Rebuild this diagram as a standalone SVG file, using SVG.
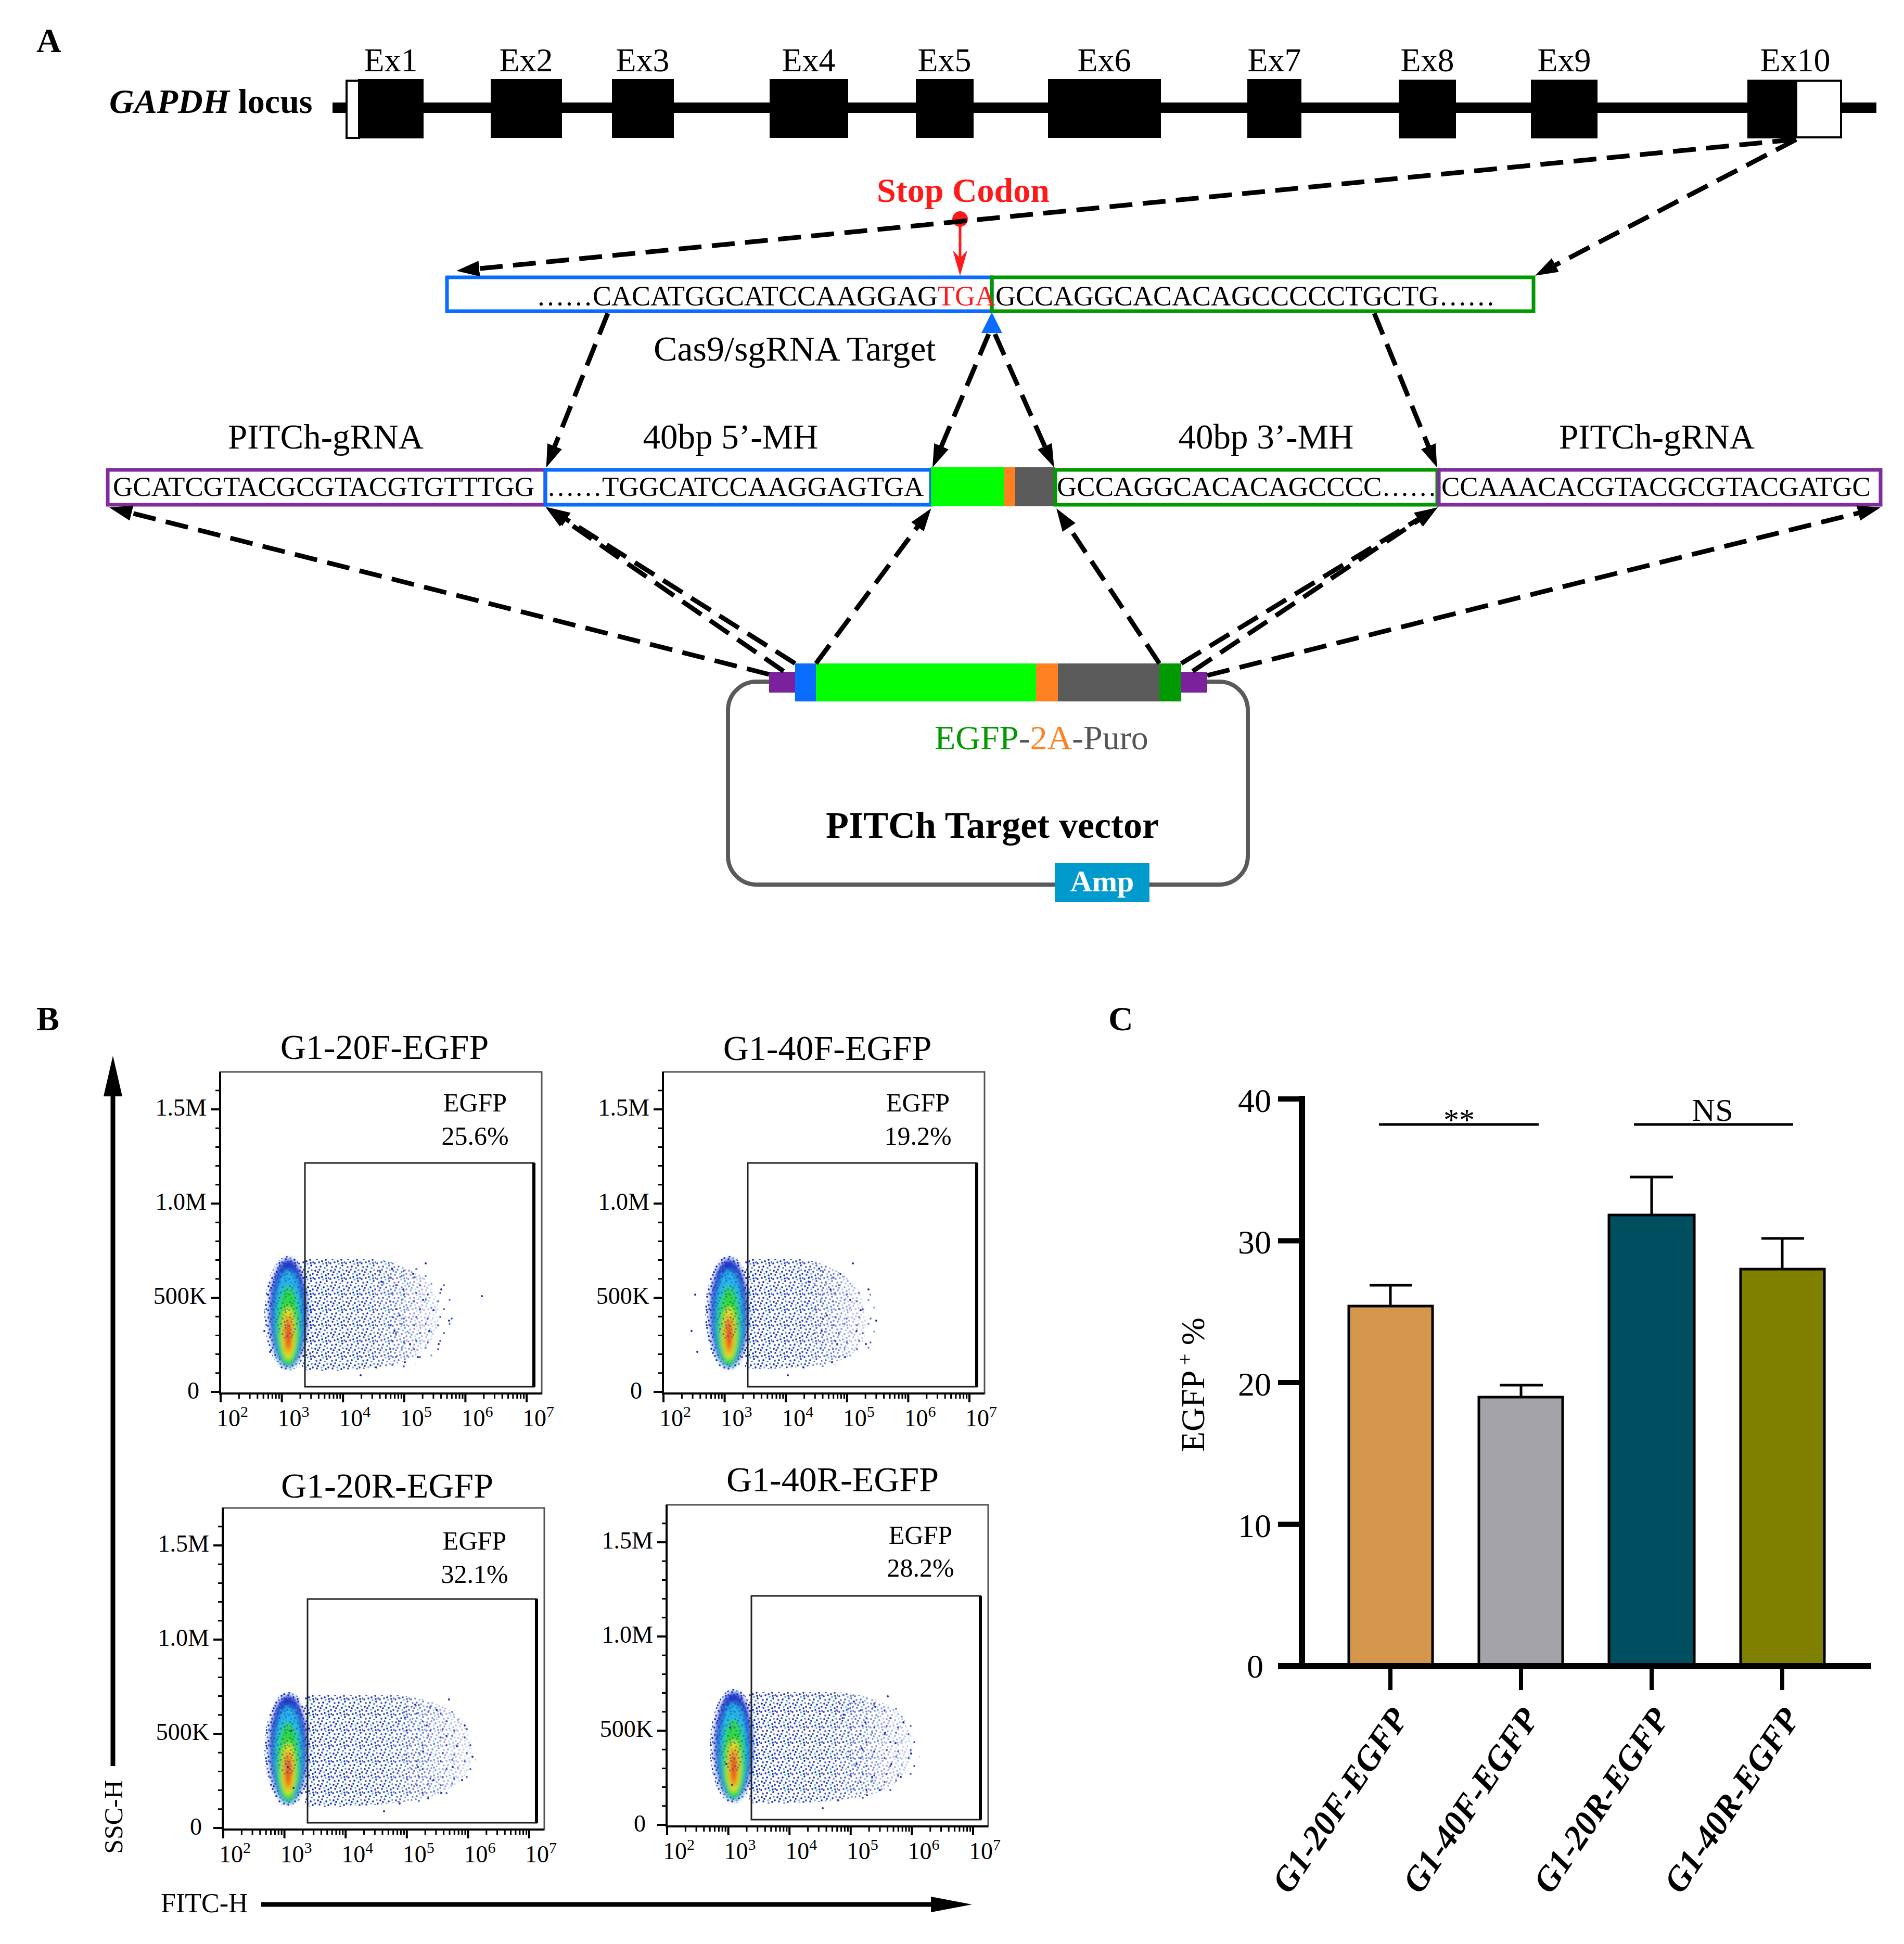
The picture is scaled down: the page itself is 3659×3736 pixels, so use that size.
<svg xmlns="http://www.w3.org/2000/svg" xmlns:xlink="http://www.w3.org/1999/xlink" width="3659" height="3736" viewBox="0 0 3659 3736">
<style>
.ser{font-family:"Liberation Serif","Times New Roman","DejaVu Serif",serif;}
.b{font-weight:bold;}
.dash{stroke:#000;stroke-width:9;stroke-dasharray:44 20;fill:none;marker-end:url(#ah);}
.tk{stroke:#000;fill:none;}
</style>
<defs>
<marker id="ah" markerUnits="userSpaceOnUse" markerWidth="50" markerHeight="40" viewBox="0 -20 50 40" refX="8" refY="0" orient="auto"><path d="M0,-15 L44,0 L0,15 Z" fill="#000"/></marker>
<pattern id="dotsD" width="30" height="30" patternUnits="userSpaceOnUse">
<circle cx="3" cy="4" r="1.9" fill="#1a24b8"/><circle cx="11" cy="2" r="1.9" fill="#2248d0"/><circle cx="19" cy="6" r="1.9" fill="#1620a8"/><circle cx="26" cy="3" r="1.9" fill="#3a9ae0"/><circle cx="6" cy="12" r="1.9" fill="#2038c8"/><circle cx="15" cy="10" r="1.9" fill="#40c0e8"/><circle cx="23" cy="13" r="1.9" fill="#1a26bc"/><circle cx="29" cy="18" r="1.9" fill="#2a58d8"/><circle cx="2" cy="20" r="1.9" fill="#1c30c4"/><circle cx="10" cy="18" r="1.9" fill="#2238c8"/><circle cx="18" cy="21" r="1.9" fill="#38b0e4"/><circle cx="25" cy="24" r="1.9" fill="#1a22b4"/><circle cx="5" cy="27" r="1.9" fill="#2a50d4"/><circle cx="13" cy="26" r="1.9" fill="#1620ac"/><circle cx="21" cy="29" r="1.9" fill="#3070dc"/><circle cx="28" cy="10" r="1.9" fill="#1a28bc"/><circle cx="8" cy="7" r="1.9" fill="#1822b0"/><circle cx="16" cy="16" r="1.9" fill="#1a24b8"/><circle cx="24" cy="19" r="1.9" fill="#2030c0"/>
</pattern>
<pattern id="dotsS" width="46" height="46" patternUnits="userSpaceOnUse">
<circle cx="5" cy="7" r="1.9" fill="#1a24b8"/><circle cx="27" cy="4" r="1.9" fill="#2a50d8"/><circle cx="16" cy="22" r="1.9" fill="#1620a8"/><circle cx="38" cy="19" r="1.9" fill="#3a8de0"/><circle cx="9" cy="37" r="1.9" fill="#2030c4"/><circle cx="31" cy="40" r="1.9" fill="#1a26b8"/>
</pattern>
<linearGradient id="fadeGrad" x1="0" y1="0" x2="1" y2="0"><stop offset="0" stop-color="#fff"/><stop offset="0.5" stop-color="#fff" stop-opacity="0.9"/><stop offset="1" stop-color="#fff" stop-opacity="0.2"/></linearGradient>
<mask id="fade" maskContentUnits="objectBoundingBox"><rect x="0" y="0" width="1" height="1" fill="url(#fadeGrad)"/></mask>
<filter id="soft" x="-60%" y="-20%" width="220%" height="140%"><feGaussianBlur stdDeviation="4"/></filter>
<g id="mainPop">
<g filter="url(#soft)">
<ellipse cx="0" cy="-154" rx="36" ry="104" fill="#2338c8"/>
<ellipse cx="0" cy="-145" rx="28" ry="92" fill="#27b5e6"/>
<ellipse cx="0" cy="-130" rx="22" ry="76" fill="#2fdc3a"/>
<ellipse cx="0" cy="-116" rx="13" ry="50" fill="#e8e81e"/>
<ellipse cx="0" cy="-114" rx="9" ry="40" fill="#f59a1c"/>
<ellipse cx="0" cy="-112" rx="5" ry="28" fill="#e8281e"/>
</g>
<ellipse cx="0" cy="-180" rx="34" ry="76" fill="url(#dotsD)" opacity="0.45"/>
</g>
<g id="outl" fill="#1a24b8">
<circle cx="330" cy="-240" r="2"/><circle cx="352" cy="-200" r="2"/><circle cx="371" cy="-230" r="2"/><circle cx="345" cy="-150" r="2"/><circle cx="390" cy="-180" r="2"/><circle cx="402" cy="-120" r="2"/><circle cx="365" cy="-95" r="2"/><circle cx="410" cy="-160" r="2"/><circle cx="425" cy="-200" r="2"/><circle cx="380" cy="-70" r="2"/><circle cx="440" cy="-140" r="2"/><circle cx="355" cy="-60" r="2"/><circle cx="300" cy="-50" r="2"/><circle cx="270" cy="-35" r="2"/><circle cx="395" cy="-250" r="2"/><circle cx="335" cy="-120" r="2"/><circle cx="420" cy="-95" r="2"/><circle cx="310" cy="-215" r="2"/><circle cx="92" cy="-190" r="2"/><circle cx="85" cy="-120" r="2"/><circle cx="96" cy="-80" r="2"/>
</g>
<g id="flowFrame">
<rect x="0" y="-618" width="618" height="618" fill="none" stroke="#555" stroke-width="3"/>
<path class="tk" d="M0,-618 V0 H618" stroke-width="4"/>
<path class="tk" d="M-18,-3H0 M-18,-184H0 M-18,-365H0 M-18,-546H0" stroke-width="4"/>
<path class="tk" d="M-9,-39.2H0 M-9,-75.4H0 M-9,-111.6H0 M-9,-147.8H0 M-9,-220.2H0 M-9,-256.4H0 M-9,-292.6H0 M-9,-328.8H0 M-9,-401.2H0 M-9,-437.4H0 M-9,-473.6H0 M-9,-509.8H0 M-9,-582.2H0" stroke-width="3"/>
<path class="tk" d="M1,0V17 M118.6,0V17 M236.2,0V17 M353.8,0V17 M471.4,0V17 M589,0V17" stroke-width="4"/>
<path class="tk" d="M36.4,0V10 M57.1,0V10 M71.8,0V10 M83.2,0V10 M92.5,0V10 M100.4,0V10 M107.2,0V10 M113.2,0V10 M154,0V10 M174.7,0V10 M189.4,0V10 M200.8,0V10 M210.1,0V10 M218,0V10 M224.8,0V10 M230.8,0V10 M271.6,0V10 M292.3,0V10 M307,0V10 M318.4,0V10 M327.7,0V10 M335.6,0V10 M342.4,0V10 M348.4,0V10 M389.2,0V10 M409.9,0V10 M424.6,0V10 M436,0V10 M445.3,0V10 M453.2,0V10 M460,0V10 M466,0V10 M506.8,0V10 M527.5,0V10 M542.2,0V10 M553.6,0V10 M562.9,0V10 M570.8,0V10 M577.6,0V10 M583.6,0V10" stroke-width="3"/>
<g class="ser" font-size="46" text-anchor="end" fill="#000">
<text x="-26" y="-534">1.5M</text><text x="-26" y="-353">1.0M</text><text x="-26" y="-172">500K</text><text x="-40" y="10">0</text>
</g>
<g class="ser" font-size="46" fill="#000">
<text x="-7" y="63">10<tspan dy="-18" font-size="30">2</tspan></text>
<text x="110.6" y="63">10<tspan dy="-18" font-size="30">3</tspan></text>
<text x="228.2" y="63">10<tspan dy="-18" font-size="30">4</tspan></text>
<text x="345.8" y="63">10<tspan dy="-18" font-size="30">5</tspan></text>
<text x="463.4" y="63">10<tspan dy="-18" font-size="30">6</tspan></text>
<text x="581" y="63">10<tspan dy="-18" font-size="30">7</tspan></text>
</g>
<rect x="163" y="-443" width="440" height="430" fill="none" stroke="#222" stroke-width="3"/>
<line x1="603" y1="-443" x2="603" y2="-13" stroke="#000" stroke-width="6"/>
</g>
</defs>
<rect width="3659" height="3736" fill="#fff"/>

<!-- Panel A -->
<text id="labelA" class="ser b" x="70" y="100" font-size="66">A</text>
<g id="locus">
<text class="ser b" x="210" y="217" font-size="66"><tspan font-style="italic">GAPDH</tspan> locus</text>
<rect x="639" y="197" width="2967" height="20" fill="#000"/>
<rect x="666" y="155" width="24" height="110" fill="#fff" stroke="#000" stroke-width="4"/>
<rect x="688" y="152" width="126" height="114" fill="#000"/>
<rect x="943" y="152" width="137" height="113" fill="#000"/>
<rect x="1176" y="152" width="119" height="113" fill="#000"/>
<rect x="1479" y="152" width="151" height="113" fill="#000"/>
<rect x="1760" y="152" width="111" height="113" fill="#000"/>
<rect x="2014" y="152" width="217" height="113" fill="#000"/>
<rect x="2397" y="152" width="104" height="113" fill="#000"/>
<rect x="2688" y="153" width="110" height="113" fill="#000"/>
<rect x="2942" y="153" width="128" height="113" fill="#000"/>
<rect x="3358" y="153" width="94" height="113" fill="#000"/>
<rect x="3452" y="155" width="86" height="109" fill="#fff" stroke="#000" stroke-width="4"/>
<g class="ser" font-size="64" text-anchor="middle">
<text x="751" y="137">Ex1</text><text x="1011" y="137">Ex2</text><text x="1235" y="137">Ex3</text><text x="1554" y="137">Ex4</text><text x="1815" y="137">Ex5</text><text x="2122" y="137">Ex6</text><text x="2449" y="137">Ex7</text><text x="2743" y="137">Ex8</text><text x="3006" y="137">Ex9</text><text x="3450" y="137">Ex10</text>
</g>
</g>

<g id="stopCodon">
<text class="ser b" x="1851" y="388" font-size="66" text-anchor="middle" fill="#ff1a1a">Stop Codon</text>
<circle cx="1845" cy="421" r="15" fill="#ff1a1a"/>
<line x1="1845" y1="430" x2="1845" y2="500" stroke="#ff1a1a" stroke-width="5"/>
<path d="M1831,481 L1845,530 L1859,481 L1845,496 Z" fill="#ff1a1a"/>
</g>

<g id="targetSeq">
<rect x="859" y="533" width="1047" height="65" fill="none" stroke="#0a6cff" stroke-width="7"/>
<rect x="1906" y="533" width="1041" height="65" fill="none" stroke="#009a00" stroke-width="7"/>
<text class="ser" font-size="54" x="1031" y="587">……CACATGGCATCCAAGGAG<tspan fill="#ff1a1a">TGA</tspan>GCCAGGCACACAGCCCCCTGCTG……</text>
<path d="M1906,600 L1926,640 L1886,640 Z" fill="#0a6cff"/>
<text class="ser" x="1256" y="693" font-size="68">Cas9/sgRNA Target</text>
</g>

<g id="pitchRow">
<rect x="207" y="903" width="841" height="67" fill="none" stroke="#7f2c9f" stroke-width="7"/>
<rect x="1048" y="903" width="741" height="67" fill="none" stroke="#0a6cff" stroke-width="7"/>
<rect x="1789" y="898" width="141" height="75" fill="#00ff00"/>
<rect x="1930" y="898" width="21" height="75" fill="#ff8020"/>
<rect x="1951" y="898" width="77" height="75" fill="#5a5a5a"/>
<rect x="2028" y="903" width="734" height="67" fill="none" stroke="#009a00" stroke-width="7"/>
<rect x="2765" y="903" width="849" height="67" fill="none" stroke="#7f2c9f" stroke-width="7"/>
<g class="ser" font-size="53">
<text x="217" y="953">GCATCGTACGCGTACGTGTTTGG</text>
<text x="1051" y="953">……TGGCATCCAAGGAGTGA</text>
<text x="2031" y="953">GCCAGGCACACAGCCCC……</text>
<text x="2770" y="953">CCAAACACGTACGCGTACGATGC</text>
</g>
<g class="ser" font-size="67" text-anchor="middle">
<text x="626" y="862">PITCh-gRNA</text>
<text x="1404" y="862">40bp 5’-MH</text>
<text x="2433" y="862">40bp 3’-MH</text>
<text x="3184" y="862">PITCh-gRNA</text>
</g>
</g>

<g id="vector">
<rect x="1399" y="1310" width="999" height="390" rx="55" ry="55" fill="none" stroke="#5a5a5a" stroke-width="8"/>
<rect x="1478" y="1291" width="52" height="40" fill="#7b219e"/>
<rect x="1528" y="1275" width="40" height="73" fill="#0a6cff"/>
<rect x="1568" y="1275" width="423" height="73" fill="#00ff00"/>
<rect x="1991" y="1275" width="42" height="73" fill="#ff8020"/>
<rect x="2033" y="1275" width="195" height="73" fill="#5a5a5a"/>
<rect x="2228" y="1275" width="42" height="73" fill="#009a00"/>
<rect x="2270" y="1291" width="50" height="40" fill="#7b219e"/>
<text class="ser" x="1796" y="1440" font-size="66"><tspan fill="#009a00">EGFP</tspan><tspan fill="#555">-</tspan><tspan fill="#ff8020">2A</tspan><tspan fill="#555">-Puro</tspan></text>
<text class="ser b" x="1907" y="1610" font-size="72" text-anchor="middle">PITCh Target vector</text>
<rect x="2027" y="1659" width="182" height="74" fill="#009acd"/>
<text class="ser b" x="2118" y="1713" font-size="58" text-anchor="middle" fill="#fff">Amp</text>
</g>

<g id="connectors">
<line class="dash" x1="3450" y1="268" x2="913" y2="517"/>
<line class="dash" x1="3452" y1="268" x2="2982" y2="513"/>
<line class="dash" x1="1168" y1="602" x2="1063" y2="865"/>
<line class="dash" x1="1900" y1="642" x2="1806" y2="865"/>
<line class="dash" x1="1912" y1="642" x2="2011" y2="865"/>
<line class="dash" x1="2641" y1="602" x2="2748" y2="865"/>
<line class="dash" x1="1478" y1="1296" x2="245" y2="984"/>
<line class="dash" x1="1506" y1="1290" x2="1078" y2="995"/>
<line class="dash" x1="1528" y1="1275" x2="1082" y2="994"/>
<line class="dash" x1="1568" y1="1275" x2="1768" y2="1006"/>
<line class="dash" x1="2228" y1="1275" x2="2050" y2="1007"/>
<line class="dash" x1="2270" y1="1275" x2="2732" y2="994"/>
<line class="dash" x1="2292" y1="1290" x2="2733" y2="995"/>
<line class="dash" x1="2320" y1="1298" x2="3579" y2="984"/>
</g>

<!-- Panel B -->
<text id="labelB" class="ser b" x="70" y="1980" font-size="66">B</text>
<g id="axisArrows">
<line x1="217" y1="2100" x2="217" y2="3394" stroke="#000" stroke-width="9"/>
<path d="M217,2029 L235,2107 L199,2107 Z" fill="#000"/>
<text class="ser" font-size="50" text-anchor="middle" transform="translate(235,3492) rotate(-90)">SSC-H</text>
<text class="ser" x="309" y="3675" font-size="52">FITC-H</text>
<line x1="502" y1="3660" x2="1795" y2="3660" stroke="#000" stroke-width="9"/>
<path d="M1868,3660 L1789,3645 L1789,3675 Z" fill="#000"/>
</g>

<g id="plot1" transform="translate(423,2678)">
<path d="M158,-258 L300,-258 Q360,-250 400,-215 Q430,-170 415,-120 Q395,-70 330,-55 Q250,-40 158,-45 Z" fill="url(#dotsD)" mask="url(#fade)"/>
<path d="M300,-258 Q400,-250 440,-200 Q460,-140 430,-90 Q400,-55 330,-45 Z" fill="url(#dotsS)" opacity="0.8"/>
<ellipse cx="131" cy="-154" rx="46" ry="110" fill="url(#dotsD)"/>
<use href="#mainPop" x="131"/>
<use href="#outl"/>
<circle cx="503" cy="-187" r="2" fill="#1a24b8"/>
<use href="#flowFrame"/>
<text class="ser" x="316" y="-643" font-size="68" text-anchor="middle">G1-20F-EGFP</text>
<text class="ser" x="490" y="-542" font-size="50" text-anchor="middle">EGFP</text>
<text class="ser" x="490" y="-478" font-size="50" text-anchor="middle">25.6%</text>
</g>

<g id="plot2" transform="translate(1274,2678)">
<path d="M158,-258 L270,-258 Q340,-245 375,-200 Q400,-150 385,-100 Q360,-60 300,-55 Q230,-45 158,-48 Z" fill="url(#dotsD)" mask="url(#fade)"/>
<path d="M260,-240 Q360,-240 400,-190 Q420,-140 400,-90 Q370,-60 300,-50 Z" fill="url(#dotsS)" opacity="0.7"/>
<ellipse cx="127" cy="-154" rx="46" ry="110" fill="url(#dotsD)"/>
<use href="#mainPop" x="127"/>
<use href="#outl" x="-30"/>
<use href="#flowFrame"/>
<text class="ser" x="316" y="-641" font-size="68" text-anchor="middle">G1-40F-EGFP</text>
<text class="ser" x="490" y="-542" font-size="50" text-anchor="middle">EGFP</text>
<text class="ser" x="490" y="-478" font-size="50" text-anchor="middle">19.2%</text>
</g>

<g id="plot3" transform="translate(428,3516)">
<path d="M158,-258 L340,-258 Q420,-250 460,-210 Q490,-160 470,-110 Q440,-65 360,-55 Q260,-40 158,-45 Z" fill="url(#dotsD)" mask="url(#fade)"/>
<path d="M330,-255 Q440,-245 480,-200 Q500,-140 470,-95 Q430,-55 360,-48 Z" fill="url(#dotsS)" opacity="0.8"/>
<ellipse cx="126" cy="-154" rx="46" ry="110" fill="url(#dotsD)"/>
<use href="#mainPop" x="126"/>
<use href="#outl" x="40"/>
<use href="#flowFrame"/>
<text class="ser" x="316" y="-638" font-size="68" text-anchor="middle">G1-20R-EGFP</text>
<text class="ser" x="484" y="-538" font-size="50" text-anchor="middle">EGFP</text>
<text class="ser" x="484" y="-474" font-size="50" text-anchor="middle">32.1%</text>
</g>

<g id="plot4" transform="translate(1281,3510)">
<path d="M158,-258 L330,-258 Q420,-250 455,-210 Q485,-160 465,-110 Q435,-65 360,-55 Q260,-40 158,-45 Z" fill="url(#dotsD)" mask="url(#fade)"/>
<path d="M320,-255 Q440,-245 480,-200 Q500,-140 470,-95 Q430,-55 360,-48 Z" fill="url(#dotsS)" opacity="0.8"/>
<ellipse cx="129" cy="-154" rx="46" ry="110" fill="url(#dotsD)"/>
<use href="#mainPop" x="129"/>
<use href="#outl" x="30"/>
<use href="#flowFrame"/>
<text class="ser" x="319" y="-644" font-size="68" text-anchor="middle">G1-40R-EGFP</text>
<text class="ser" x="488" y="-543" font-size="50" text-anchor="middle">EGFP</text>
<text class="ser" x="488" y="-480" font-size="50" text-anchor="middle">28.2%</text>
</g>

<!-- Panel C -->
<text id="labelC" class="ser b" x="2130" y="1980" font-size="66">C</text>
<g id="barChart">
<rect x="2592" y="2510" width="161" height="692" fill="#d4964a" stroke="#000" stroke-width="5"/>
<rect x="2842" y="2685" width="161" height="517" fill="#a4a3a8" stroke="#000" stroke-width="5"/>
<rect x="3092" y="2335" width="164" height="867" fill="#004f61" stroke="#000" stroke-width="5"/>
<rect x="3345" y="2439" width="161" height="763" fill="#808000" stroke="#000" stroke-width="5"/>
<path class="tk" stroke-width="5" d="M2672,2510V2470 M2632,2470H2713 M2923,2685V2662 M2882,2662H2965 M3174,2335V2262 M3132,2262H3215 M3425,2439V2380 M3385,2380H3467"/>
<path class="tk" stroke-width="12" d="M2502,2106V3208 M2456,3202H3596"/>
<path class="tk" stroke-width="10" d="M2456,2112H2502 M2456,2384.5H2502 M2456,2657H2502 M2456,2929.5H2502"/>
<path class="tk" stroke-width="8" d="M2672,3206V3248 M2923,3206V3248 M3174,3206V3248 M3425,3206V3248"/>
<g class="ser" font-size="64" text-anchor="end">
<text x="2443" y="2137">40</text><text x="2443" y="2409">30</text><text x="2443" y="2682">20</text><text x="2443" y="2954">10</text><text x="2428" y="3224">0</text>
</g>
<text class="ser" font-size="64" text-anchor="middle" transform="translate(2314,2661) rotate(-90)">EGFP<tspan dy="-24" font-size="40"> +</tspan><tspan dy="24"> %</tspan></text>
<path class="tk" stroke-width="5" d="M2650,2161H2957 M3140,2161H3446"/>
<text class="ser" x="2804" y="2172" font-size="60" text-anchor="middle">**</text>
<text class="ser" x="3291" y="2154" font-size="62" text-anchor="middle">NS</text>
<g class="ser b" font-size="66" font-style="italic" text-anchor="end">
<text transform="translate(2708,3302) rotate(-56)">G1-20F-EGFP</text>
<text transform="translate(2959,3302) rotate(-56)">G1-40F-EGFP</text>
<text transform="translate(3210,3302) rotate(-56)">G1-20R-EGFP</text>
<text transform="translate(3461,3302) rotate(-56)">G1-40R-EGFP</text>
</g>
</g>
</svg>
